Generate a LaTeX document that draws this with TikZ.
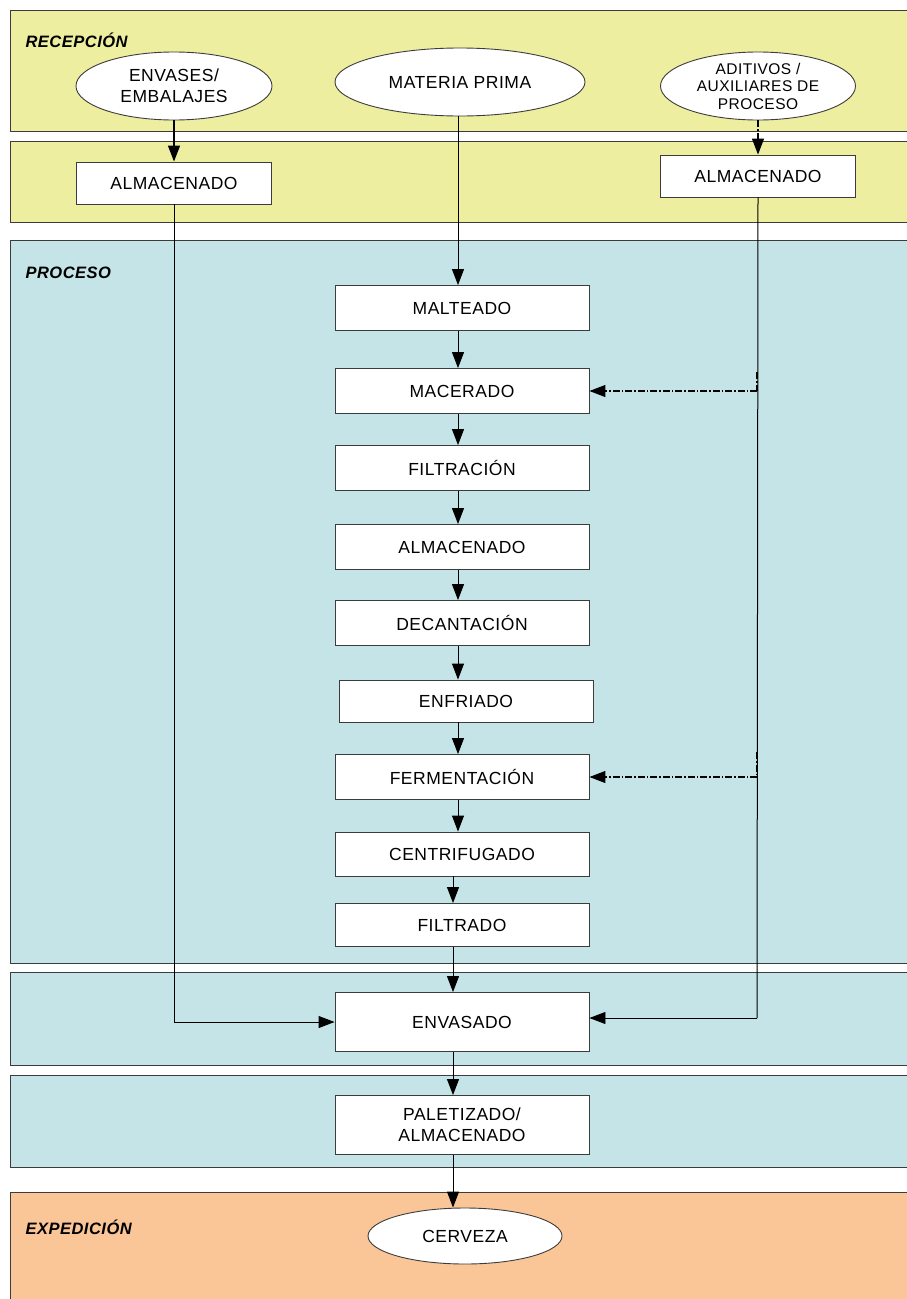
\documentclass[tikz,border=0pt]{standalone}
\usepackage{fontspec}
\setmainfont{Liberation Sans}[LetterSpace=3]
\usetikzlibrary{arrows.meta,shapes.geometric}
\definecolor{bandyellow}{RGB}{238,238,160}
\definecolor{bandblue}{RGB}{196,228,232}
\definecolor{bandorange}{RGB}{250,198,152}
\definecolor{bandline}{RGB}{60,60,60}
\tikzset{
  band/.style={draw=bandline, line width=1pt},
  bandlabel/.style={anchor=west, font=\fontsize{16.5}{18}\selectfont\bfseries\itshape},
  procbox/.style={draw=bandline, fill=white, line width=0.9pt, minimum width=254pt, minimum height=45pt, inner sep=0pt, align=center, font=\fontsize{17.5}{21}\selectfont},
  sidebox/.style={draw=bandline, fill=white, line width=0.9pt, minimum width=195pt, minimum height=42pt, inner sep=0pt, align=center, font=\fontsize{17.5}{21}\selectfont},
  oval/.style={ellipse, draw=bandline, fill=white, line width=0.9pt, inner sep=0pt, align=center, font=\fontsize{17.5}{21}\selectfont},
  flow/.style={line width=0.9pt, -{Triangle[length=16pt,width=12pt]}},
  line/.style={line width=1pt},
  dashdot/.style={line width=1.2pt, dash pattern=on 7pt off 2pt on 1.5pt off 2pt},
}
\begin{document}
\begin{tikzpicture}[x=1pt,y=-1pt]
\clip (0,0) rectangle (907,1299);
\fill[white] (0,0) rectangle (907,1299);
% bands
\draw[band, fill=bandyellow] (10,10) rectangle (920,131);
\draw[band, fill=bandyellow] (10,141) rectangle (920,222);
\draw[band, fill=bandblue] (10,240) rectangle (920,963);
\draw[band, fill=bandblue] (10,972) rectangle (920,1065);
\draw[band, fill=bandblue] (10,1075) rectangle (920,1167);
\draw[band, fill=bandorange] (10,1192) rectangle (920,1310);
\node[bandlabel] (lrec) at (22,40) {RECEPCIÓN};
\node[bandlabel] (lproc) at (22,273) {PROCESO};
\node[bandlabel] (lexp) at (22,1227) {EXPEDICIÓN};
% reception
\node[oval, minimum width=196pt, minimum height=68pt] (env) at (174,86) {ENVASES/\\EMBALAJES};
\node[oval, minimum width=250pt, minimum height=68pt] (mp) at (460,82) {MATERIA PRIMA};
\node[oval, minimum width=195pt, minimum height=68pt, font=\fontsize{15.5}{17.5}\selectfont] (adi) at (758,86) {ADITIVOS /\\AUXILIARES DE\\PROCESO};
\node[sidebox] (almL) at (174,183) {ALMACENADO};
\node[sidebox] (almR) at (758,176) {ALMACENADO};
% process
\node[procbox] (malt) at (462,308) {MALTEADO};
\node[procbox] (mace) at (462,391) {MACERADO};
\node[procbox] (filt) at (462,468) {FILTRACIÓN};
\node[procbox] (alm) at (462,547) {ALMACENADO};
\node[procbox] (deca) at (462,623) {DECANTACIÓN};
\node[procbox, minimum height=42pt] (enfr) at (466,701) {ENFRIADO};
\node[procbox] (ferm) at (462,777) {FERMENTACIÓN};
\node[procbox, minimum height=44pt] (cent) at (462,854) {CENTRIFUGADO};
\node[procbox, minimum height=43pt] (filtr) at (462,925) {FILTRADO};
\node[procbox, minimum height=59pt] (envs) at (462,1022) {ENVASADO};
\node[procbox, minimum height=59pt] (pal) at (462,1125) {PALETIZADO/\\ALMACENADO};
\node[oval, minimum width=194pt, minimum height=56pt] (cerv) at (465,1236) {CERVEZA};
% helper coordinates
\coordinate (cx1) at (458,0);
\coordinate (cx2) at (453,0);
\coordinate (lc) at (174,1022);
\coordinate (rc) at (757,1018);
\coordinate (r1) at (757,372);
\coordinate (r1b) at (757,391);
\coordinate (r2) at (757,752);
\coordinate (r2b) at (757,777);
% connectors
\draw[flow, line width=1.4pt] (env.south) -- (almL.north);
\draw[flow, dashdot] (adi.south) -- (almR.north);
\draw[flow] (mp.south -| cx1) -- (malt.north -| cx1);
\draw[line] (almL.south) -- (lc);
\draw[flow] (lc) -- (lc -| envs.west);
\draw[line] (almR.south) -- (rc);
\draw[flow] (rc) -- (rc -| envs.east);
\draw[dashdot] (r1) -- (r1b);
\draw[flow, dashdot] (r1b) -- (mace.east);
\draw[dashdot] (r2) -- (r2b);
\draw[flow, dashdot] (r2b) -- (ferm.east);
\draw[flow] (malt.south -| cx1) -- (mace.north -| cx1);
\draw[flow] (mace.south -| cx1) -- (filt.north -| cx1);
\draw[flow] (filt.south -| cx1) -- (alm.north -| cx1);
\draw[flow] (alm.south -| cx1) -- (deca.north -| cx1);
\draw[flow] (deca.south -| cx1) -- (enfr.north -| cx1);
\draw[flow] (enfr.south -| cx1) -- (ferm.north -| cx1);
\draw[flow] (ferm.south -| cx1) -- (cent.north -| cx1);
\draw[flow] (cent.south -| cx2) -- (filtr.north -| cx2);
\draw[flow] (filtr.south -| cx2) -- (envs.north -| cx2);
\draw[flow] (envs.south -| cx2) -- (pal.north -| cx2);
\draw[flow] (pal.south -| cx2) -- (cerv.north -| cx2);
\end{tikzpicture}
\end{document}
